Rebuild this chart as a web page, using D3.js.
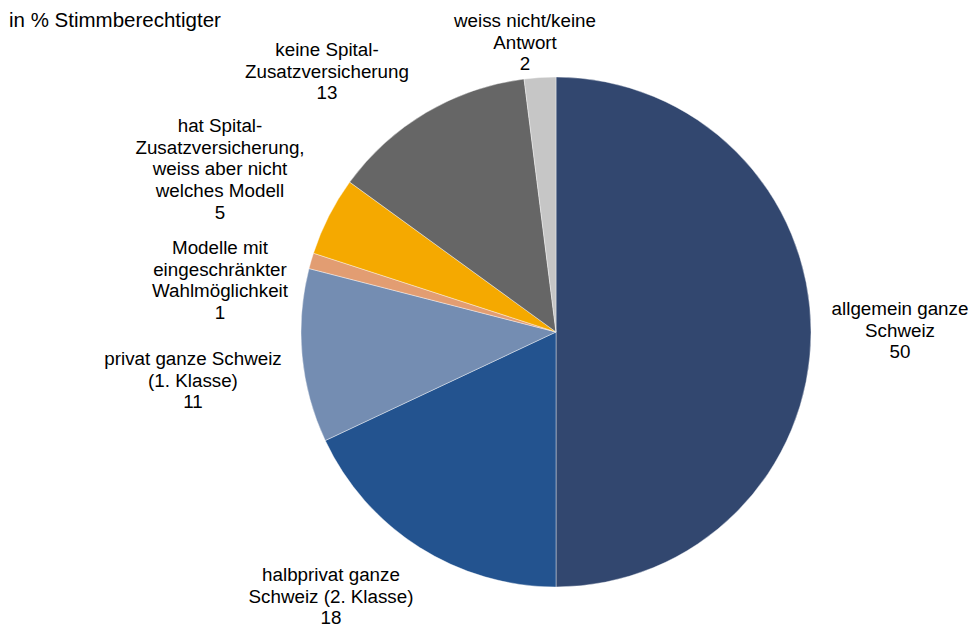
<!DOCTYPE html>
<html>
<head>
<meta charset="utf-8">
<script src="https://cdn.jsdelivr.net/npm/d3@7"></script>
<style>
  body { margin: 0; background: #fff; }
  text { font-family: "Liberation Sans", Arial, sans-serif; fill: #000; }
</style>
</head>
<body>
<svg id="chart" width="971" height="629"></svg>
<script>
// Categories in clockwise order starting at 12 o'clock
const categories = [
  "allgemein ganze Schweiz",
  "halbprivat ganze Schweiz (2. Klasse)",
  "privat ganze Schweiz (1. Klasse)",
  "Modelle mit eingeschränkter Wahlmöglichkeit",
  "hat Spital-Zusatzversicherung, weiss aber nicht welches Modell",
  "keine Spital-Zusatzversicherung",
  "weiss nicht/keine Antwort"
];
const values = [50, 18, 11, 1, 5, 13, 2];
const colors = ["#32476f", "#23538f", "#748db2", "#e29d72", "#f5a900", "#666666", "#c6c6c6"];
// Label lines (wrapped as shown) and label anchor points
const labelLines = [
  ["allgemein ganze", "Schweiz"],
  ["halbprivat ganze", "Schweiz (2. Klasse)"],
  ["privat ganze Schweiz", "(1. Klasse)"],
  ["Modelle mit", "eingeschränkter", "Wahlmöglichkeit"],
  ["hat Spital-", "Zusatzversicherung,", "weiss aber nicht", "welches Modell"],
  ["keine Spital-", "Zusatzversicherung"],
  ["weiss nicht/keine", "Antwort"]
];
const labelPos = [
  [900, 308], [331, 574], [193, 358], [220, 247], [220, 125], [327, 49], [525, 20]
];
const title = "in % Stimmberechtigter";

const svg = d3.select("#chart");
const cx = 556, cy = 332, r = 255;
const lineH = 21.7;

const pie = d3.pie().sort(null).value(d => d)(values);
const arc = d3.arc().innerRadius(0).outerRadius(r);

const g = svg.append("g").attr("transform", `translate(${cx},${cy})`);
g.selectAll("path")
  .data(pie)
  .join("path")
  .attr("d", arc)
  .attr("fill", (d, i) => colors[i])
  .attr("stroke", "#fff")
  .attr("stroke-width", 0.4);

svg.append("text")
  .attr("x", 9).attr("y", 27)
  .attr("font-size", 20.5)
  .text(title);

const labels = svg.selectAll("text.lbl")
  .data(categories)
  .join("text")
  .attr("class", "lbl")
  .attr("text-anchor", "middle")
  .attr("font-size", 18.8)
  .attr("dominant-baseline", "central");

labels.each(function(d, i) {
  const t = d3.select(this);
  const [x, y] = labelPos[i];
  const lines = labelLines[i].concat([String(values[i])]);
  lines.forEach((ln, k) => {
    t.append("tspan").attr("x", x).attr("y", y + k * lineH).text(ln);
  });
});
</script>
</body>
</html>
